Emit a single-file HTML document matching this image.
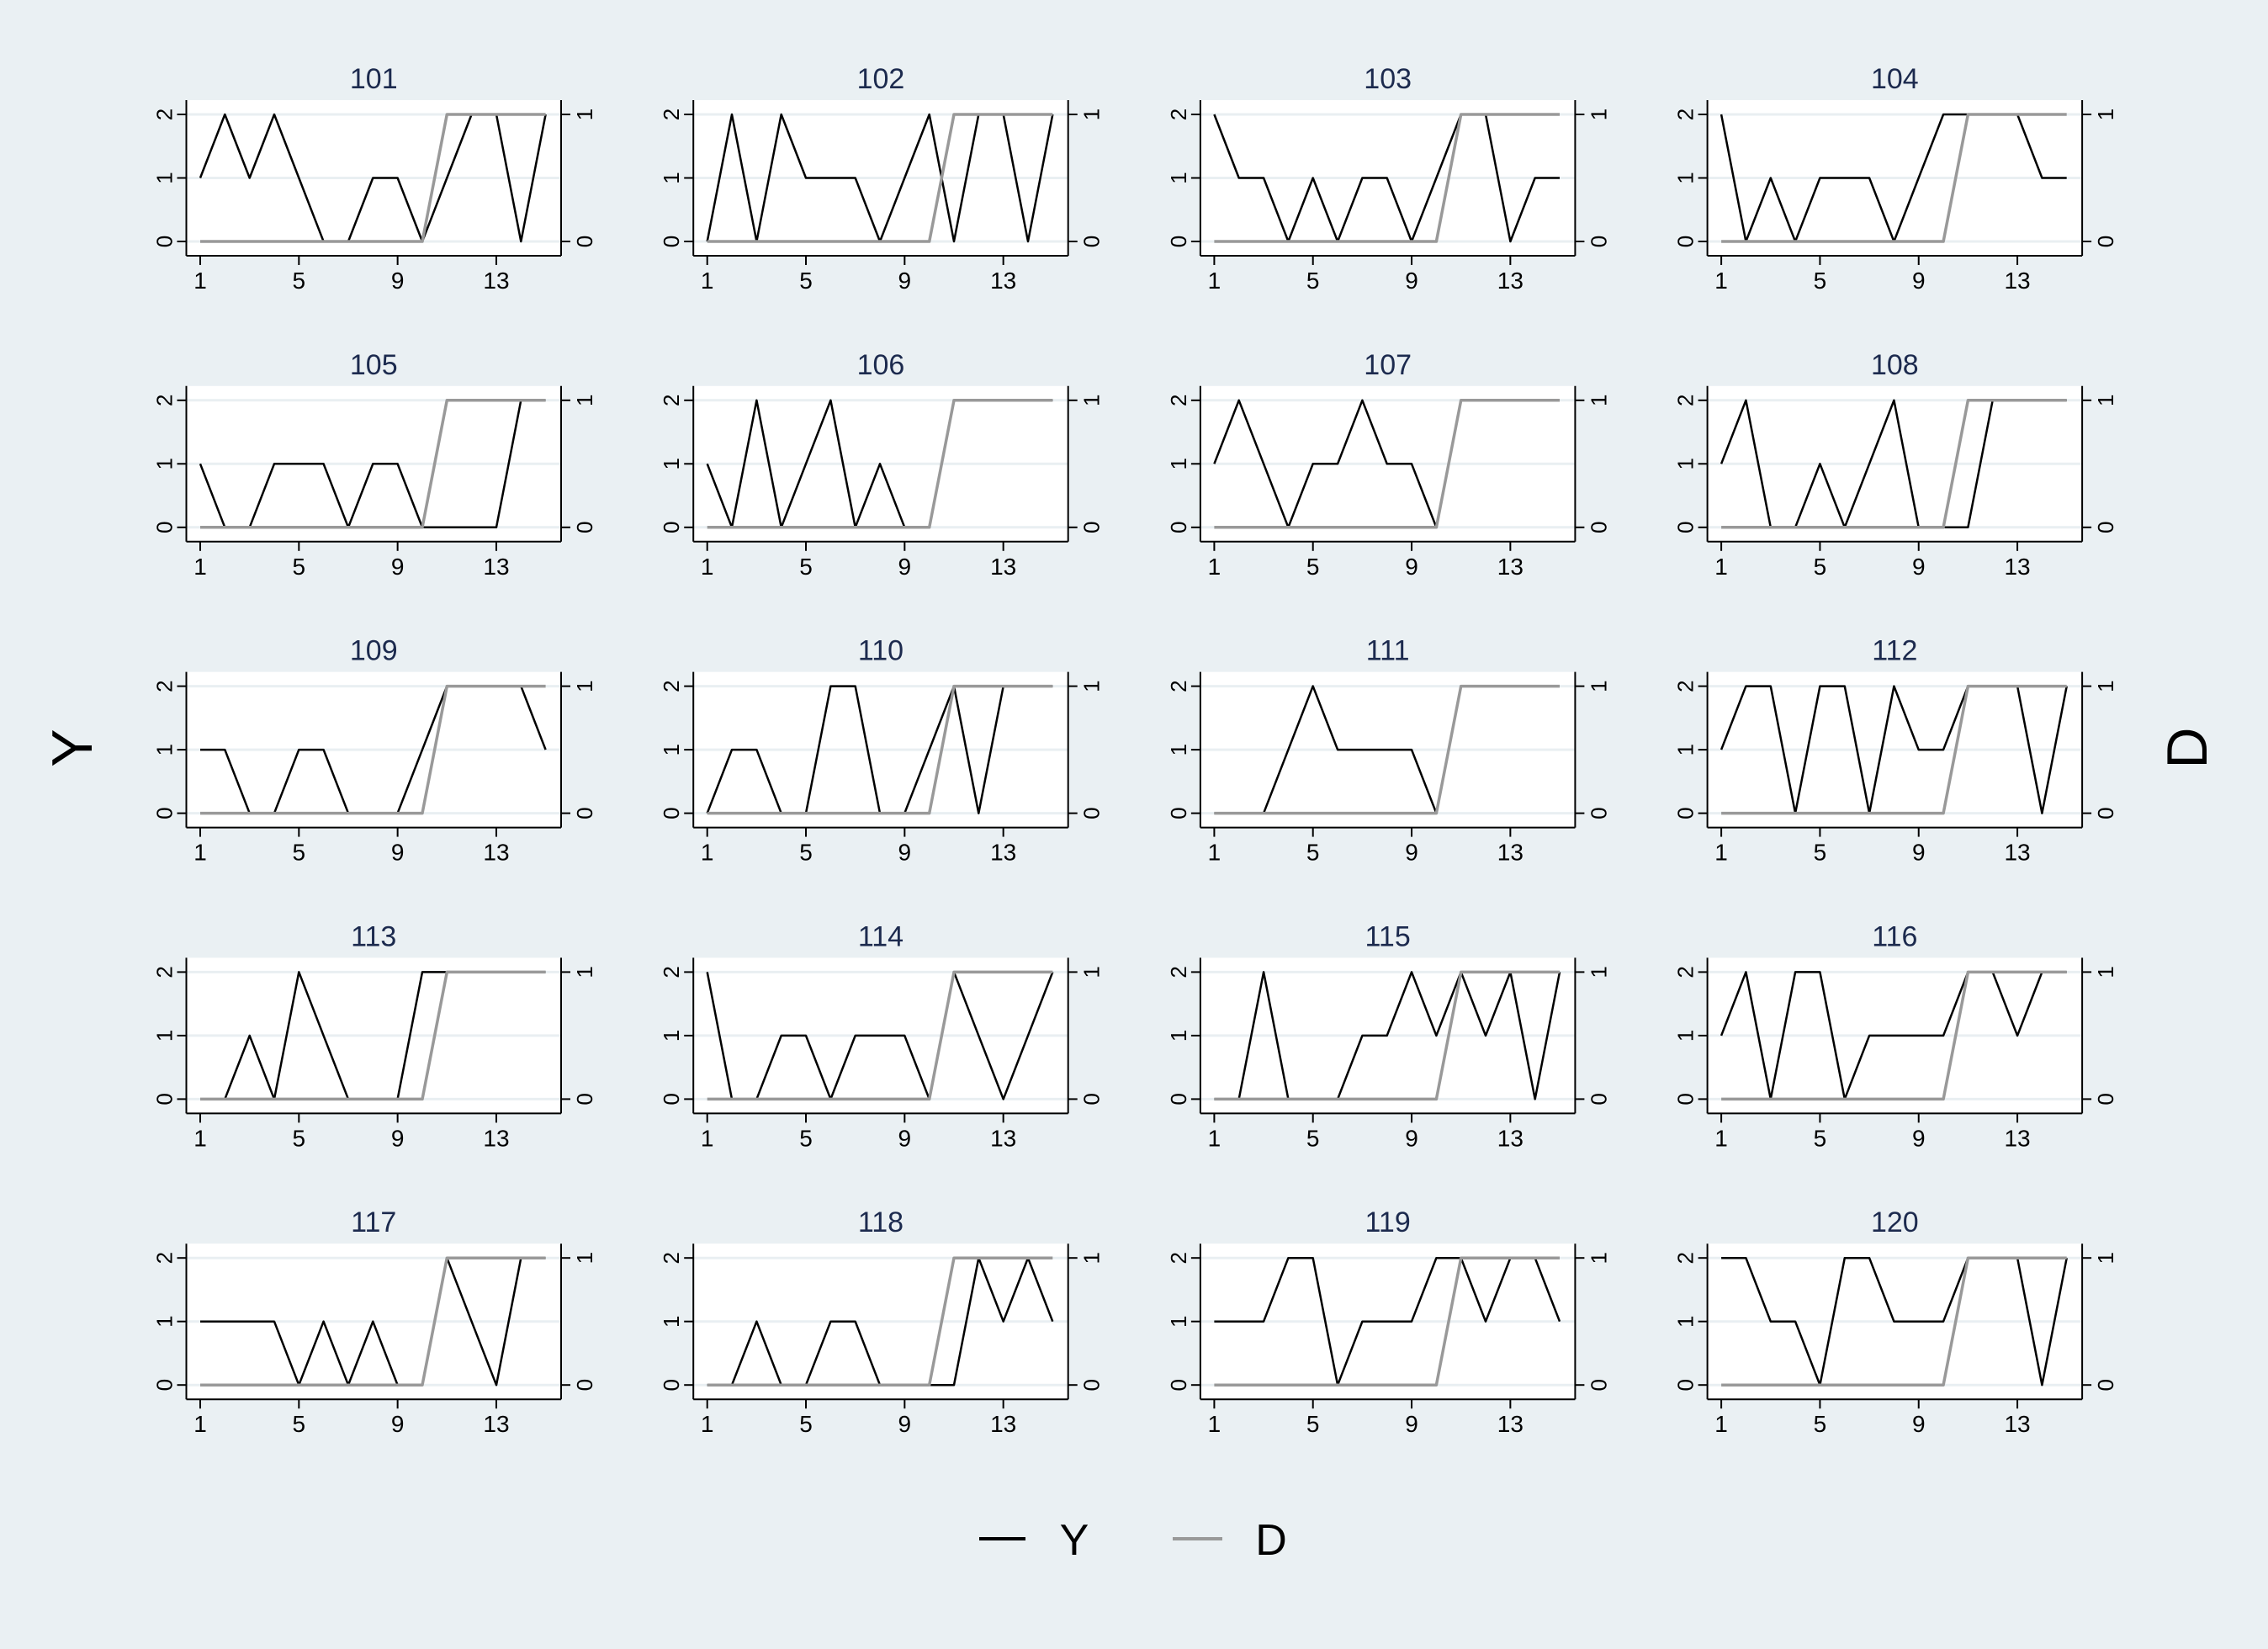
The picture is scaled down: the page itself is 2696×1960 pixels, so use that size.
<!DOCTYPE html>
<html><head><meta charset="utf-8"><style>
html,body{margin:0;padding:0;background:#eaf0f3;}
svg{display:block;font-family:"Liberation Sans",sans-serif;}
</style></head><body>
<svg id="chart" width="2696" height="1960" viewBox="0 0 2696 1960" xmlns="http://www.w3.org/2000/svg">
<rect x="0" y="0" width="2696" height="1960" fill="#eaf0f3"/>
<text x="86" y="889" font-size="68" text-anchor="middle" dominant-baseline="central" transform="rotate(-90 86 889)">Y</text>
<text x="2600" y="889" font-size="68" text-anchor="middle" dominant-baseline="central" transform="rotate(-90 2600 889)">D</text>
<g>
<line x1="1164" y1="1829" x2="1219" y2="1829" stroke="#000" stroke-width="4"/>
<text x="1277" y="1831" font-size="52" text-anchor="middle" dominant-baseline="central">Y</text>
<line x1="1394" y1="1829" x2="1453" y2="1829" stroke="#999" stroke-width="4"/>
<text x="1511" y="1831" font-size="52" text-anchor="middle" dominant-baseline="central">D</text>
</g>
</svg>
<script>
const panelIds = [101,102,103,104,105,106,107,108,109,110,111,112,113,114,115,116,117,118,119,120];
const periods = [1,2,3,4,5,6,7,8,9,10,11,12,13,14,15];
const xTicks = [1,5,9,13];
const yTicks = [0,1,2];
const dTicks = [0,1];
const yValues = [
[1,2,1,2,1,0,0,1,1,0,1,2,2,0,2],
[0,2,0,2,1,1,1,0,1,2,0,2,2,0,2],
[2,1,1,0,1,0,1,1,0,1,2,2,0,1,1],
[2,0,1,0,1,1,1,0,1,2,2,2,2,1,1],
[1,0,0,1,1,1,0,1,1,0,0,0,0,2,2],
[1,0,2,0,1,2,0,1,0,0,2,2,2,2,2],
[1,2,1,0,1,1,2,1,1,0,2,2,2,2,2],
[1,2,0,0,1,0,1,2,0,0,0,2,2,2,2],
[1,1,0,0,1,1,0,0,0,1,2,2,2,2,1],
[0,1,1,0,0,2,2,0,0,1,2,0,2,2,2],
[0,0,0,1,2,1,1,1,1,0,2,2,2,2,2],
[1,2,2,0,2,2,0,2,1,1,2,2,2,0,2],
[0,0,1,0,2,1,0,0,0,2,2,2,2,2,2],
[2,0,0,1,1,0,1,1,1,0,2,1,0,1,2],
[0,0,2,0,0,0,1,1,2,1,2,1,2,0,2],
[1,2,0,2,2,0,1,1,1,1,2,2,1,2,2],
[1,1,1,1,0,1,0,1,0,0,2,1,0,2,2],
[0,0,1,0,0,1,1,0,0,0,0,2,1,2,1],
[1,1,1,2,2,0,1,1,1,2,2,1,2,2,1],
[2,2,1,1,0,2,2,1,1,1,2,2,2,0,2]
];
const dValues = [0,0,0,0,0,0,0,0,0,0,1,1,1,1,1];

const NS = "http://www.w3.org/2000/svg";
const svg = document.getElementById('chart');
function mk(tag, attrs, parent){const e=document.createElementNS(NS,tag);for(const k in attrs)e.setAttribute(k,attrs[k]);parent.appendChild(e);return e;}

const colStep = 602.7, rowStep = 339.8;
panelIds.forEach((id, i) => {
  const c = i % 4, r = Math.floor(i / 4);
  const t1 = 238 + colStep * c;
  const y0p = 287 + rowStep * r, y2p = 136 + rowStep * r;
  const xs = v => t1 + (v - 1) * 29.33;
  const ys = v => y0p + (y2p - y0p) * v / 2;
  const ds = v => y0p + (y2p - y0p) * v;
  const left = t1 - 16.5, right = t1 + 429, top = 119 + rowStep * r, bottom = 304 + rowStep * r;
  const g = mk('g', {}, svg);
  
  
  const bg = mk('rect', {x:left, y:top, width:right-left, height:bottom-top, fill:'#fff'}, g);
  
  
  yTicks.forEach(v => {
    const gl = mk('line', {x1:left, x2:right, y1:ys(v), y2:ys(v), stroke:'#e9eff2', 'stroke-width':3}, g);
    
    
  });
  const t = mk('text', {x:(left+right)/2, y:105 + rowStep*r, 'font-size':34, 'text-anchor':'middle', fill:'#1c2a4e'}, g);
  t.textContent = id;
  
  
  [[left,top,left,bottom],[right,top,right,bottom],[left,bottom,right,bottom]].forEach(a => {
    const l = mk('line', {x1:a[0], y1:a[1], x2:a[2], y2:a[3], stroke:'#000', 'stroke-width':2}, g);
    
    
  });
  xTicks.forEach(v => {
    const tk = mk('line', {x1:xs(v), x2:xs(v), y1:bottom, y2:bottom+11, stroke:'#000', 'stroke-width':2}, g);
    
    
    const tl = mk('text', {x:xs(v), y:bottom+39, 'font-size':28, 'text-anchor':'middle'}, g);
    tl.textContent = v;
    
    
  });
  yTicks.forEach(v => {
    const tk = mk('line', {x1:left-11, x2:left, y1:ys(v), y2:ys(v), stroke:'#000', 'stroke-width':2}, g);
    
    
    const tl = mk('text', {x:left-26, y:ys(v), 'font-size':26, 'text-anchor':'middle', 'dominant-baseline':'central', transform:`rotate(-90 ${left-26} ${ys(v)})`}, g);
    tl.textContent = v;
    
    
  });
  dTicks.forEach(v => {
    const tk = mk('line', {x1:right, x2:right+11, y1:ds(v), y2:ds(v), stroke:'#000', 'stroke-width':2}, g);
    
    
    const tl = mk('text', {x:right+28, y:ds(v), 'font-size':26, 'text-anchor':'middle', 'dominant-baseline':'central', transform:`rotate(-90 ${right+28} ${ds(v)})`}, g);
    tl.textContent = v;
    
    
  });
  const yPts = periods.map((p,k) => xs(p).toFixed(1)+','+ys(yValues[i][k]).toFixed(1)).join(' ');
  const yl = mk('polyline', {points:yPts, fill:'none', stroke:'#000', 'stroke-width':2.5, 'stroke-linejoin':'round'}, g);
  
  
  const dPts = periods.map((p,k) => xs(p).toFixed(1)+','+ds(dValues[k]).toFixed(1)).join(' ');
  const dl = mk('polyline', {points:dPts, fill:'none', stroke:'#999', 'stroke-width':3.5, 'stroke-linejoin':'round'}, g);
  
  
});
</script>
</body></html>
